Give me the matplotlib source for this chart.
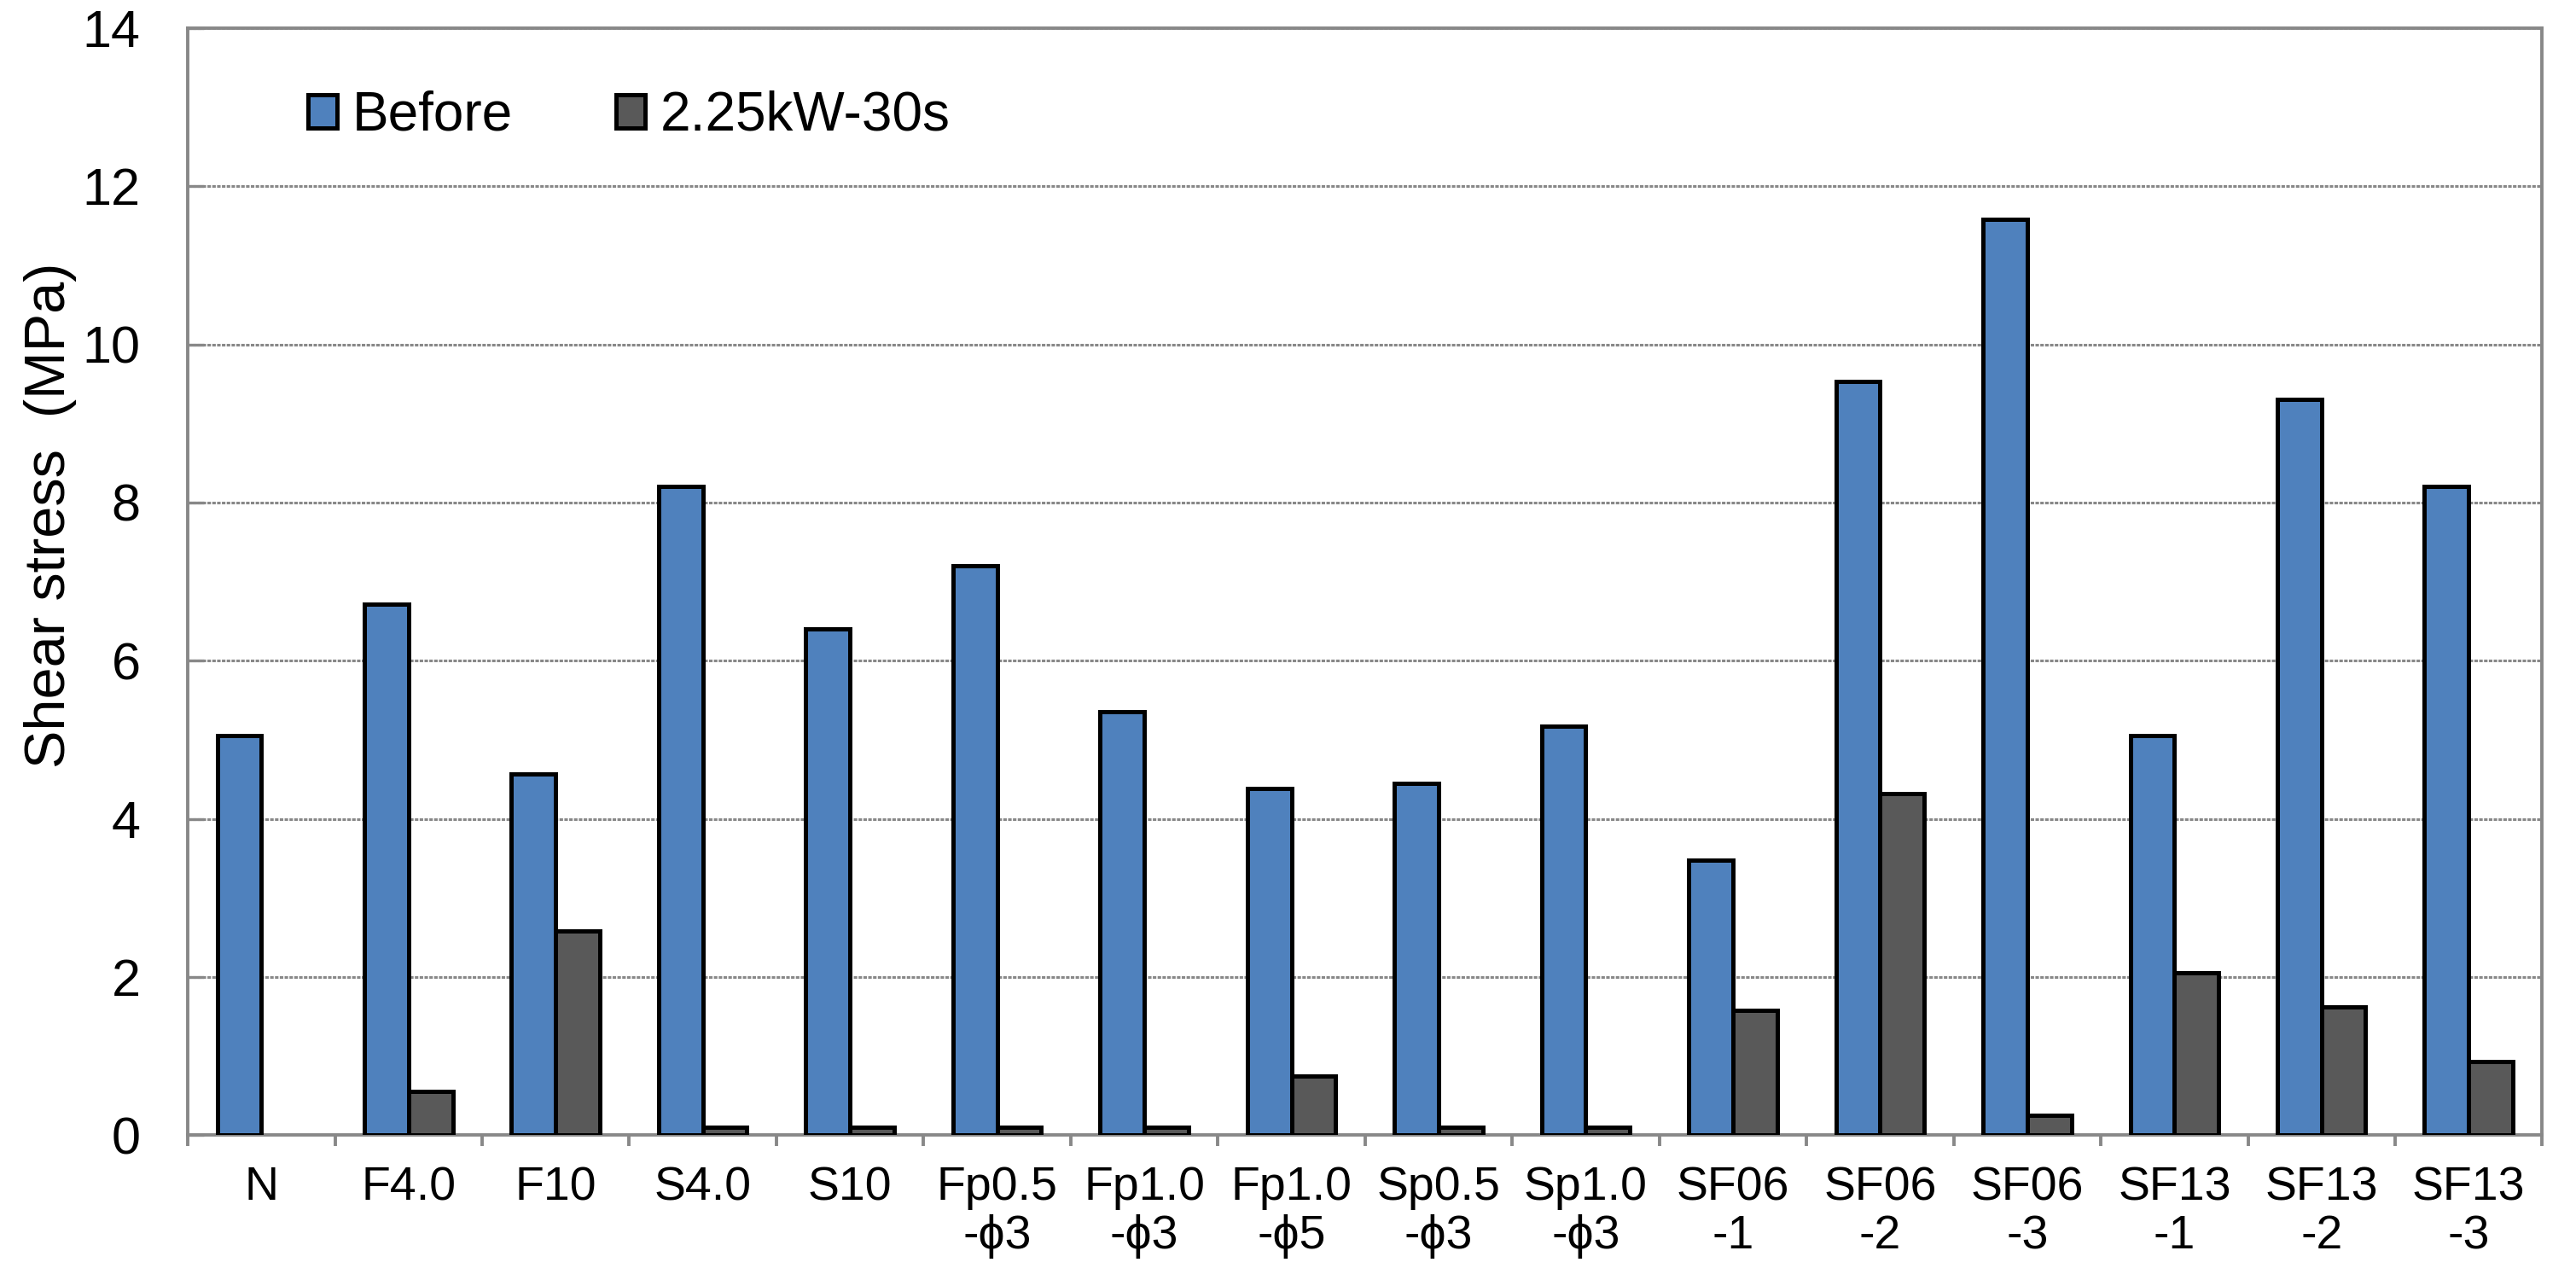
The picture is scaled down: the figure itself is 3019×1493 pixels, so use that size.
import matplotlib.pyplot as plt
import numpy as np

categories = ['N', 'F4.0', 'F10', 'S4.0', 'S10', 'Fp0.5\n-ϕ3', 'Fp1.0\n-ϕ3', 'Fp1.0\n-ϕ5',
              'Sp0.5\n-ϕ3', 'Sp1.0\n-ϕ3', 'SF06\n-1', 'SF06\n-2', 'SF06\n-3',
              'SF13\n-1', 'SF13\n-2', 'SF13\n-3']
before = [5.05, 6.72, 4.57, 8.2, 6.4, 7.2, 5.35, 4.38, 4.45, 5.17, 3.48, 9.53, 11.58, 5.05, 9.3, 8.2]
after = [0.0, 0.55, 2.58, 0.1, 0.1, 0.1, 0.1, 0.75, 0.1, 0.1, 1.58, 4.32, 0.25, 2.05, 1.62, 0.93]

plt.rcParams['font.family'] = ['Liberation Sans', 'DejaVu Sans']

fig = plt.figure(figsize=(15.095, 7.465), dpi=200)
ax = fig.add_axes([0.0729, 0.109, 0.914, 0.869])

x = np.arange(len(categories))
w = 0.3
# zero-height bars would still show their edge as a flat line, so skip them
after_drawn = [v if v > 0 else np.nan for v in after]
ax.bar(x - w/2, before, w, color='#4F81BD', edgecolor='black', linewidth=1.8, label='Before', zorder=3)
ax.bar(x + w/2, after_drawn, w, color='#595959', edgecolor='black', linewidth=1.8, label='2.25kW-30s', zorder=3)

ax.set_xlim(-0.5, len(categories) - 0.5)
ax.set_ylim(0, 14)
ax.set_yticks(np.arange(0, 15, 2))
ax.tick_params(axis='y', labelsize=22, direction='in', length=7, width=1.2, color='#888888', pad=20)
ax.yaxis.grid(True, linestyle=(0, (1.35, 0.5)), color='#888888', linewidth=1.1, zorder=0)

ax.set_xticks(x)
ax.set_xticklabels(categories, fontsize=20, linespacing=1.12, va='top')
ax.tick_params(axis='x', length=0, pad=13)
ax.set_xticks(np.arange(-0.5, len(categories)), minor=True)
ax.tick_params(axis='x', which='minor', direction='out', length=4.5, width=1.4, color='#888888')

for s in ax.spines.values():
    s.set_color('#888888')
    s.set_linewidth(1.4)

ax.set_ylabel('Shear stress  (MPa)', fontsize=24)
ax.yaxis.set_label_coords(-0.047, 0.56)

fig.legend(loc='center left', bbox_to_anchor=(0.1195, 0.909), ncol=2, frameon=False, fontsize=23,
           borderpad=0, borderaxespad=0, handlelength=0.53, handleheight=0.56,
           handletextpad=0.28, columnspacing=1.9)

fig.savefig('out.png', dpi=200)
